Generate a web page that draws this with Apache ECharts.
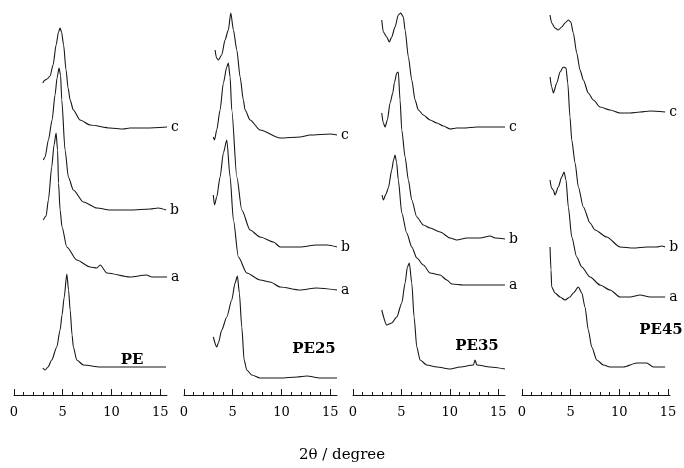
<!DOCTYPE html>
<html>
<head>
<meta charset="utf-8">
<script src="https://cdn.jsdelivr.net/npm/echarts@6/dist/echarts.min.js"></script>
<style>
  html, body { margin: 0; background: #fff; }
  #main { width: 684px; height: 468px; }
</style>
</head>
<body>
<div id="main"></div>
<script>
// [2theta (degree), intensity (arb. units)]
var pe_base = [[2.95,27],[3.19,25],[3.49,28],[3.87,35],[4.39,48],[4.73,65],[4.93,80],[5.14,97],[5.42,121],[5.60,105],[5.76,85],[5.96,60],[6.09,48],[6.44,35],[7.12,30],[8.84,28],[11.9,28],[15.6,28]];
var pe_a = [[3.01,175],[3.29,179],[3.53,195],[3.87,228],[4.11,250],[4.32,262],[4.47,245],[4.57,212],[4.73,185],[4.93,168],[5.42,148],[6.44,135],[7.81,128],[8.50,127],[8.84,130],[9.53,122],[11.9,118],[13.6,120],[14.15,118],[15.7,118]];
var pe_b = [[3.01,235],[3.19,238],[3.53,255],[3.91,275],[4.21,300],[4.42,317],[4.62,327],[4.78,320],[4.90,295],[5.24,245],[5.58,218],[6.09,205],[7.12,193],[8.50,187],[9.87,185],[11.9,185],[13.98,186],[14.8,187],[15.6,185]];
var pe_c = [[2.95,312],[3.19,315],[3.39,316],[3.70,319],[4.01,330],[4.32,350],[4.57,363],[4.73,367],[4.88,363],[5.09,350],[5.34,325],[5.55,307],[5.76,295],[6.09,285],[6.78,275],[7.81,270],[9.87,267],[11.2,266],[11.9,267],[13.6,267],[15.7,268]];

var pe25_base = [[3.01,58],[3.36,48],[3.53,52],[3.87,65],[4.39,78],[4.90,95],[5.24,112],[5.48,119],[5.68,102],[5.93,68],[6.17,35],[6.44,25],[6.96,20],[7.81,17],[9.87,17],[11.6,18],[12.6,19],[13.98,17],[15.7,17]];
var pe25_a = [[3.01,200],[3.13,190],[3.36,198],[3.70,218],[4.04,242],[4.39,255],[4.73,218],[5.07,175],[5.58,138],[6.44,122],[7.81,115],[8.84,113],[9.87,108],[11.9,105],[13.6,107],[15.7,105]];
var pe25_b = [[3.01,258],[3.13,255],[3.36,265],[3.70,285],[4.04,312],[4.39,328],[4.55,332],[4.73,318],[4.90,285],[5.42,218],[5.93,185],[6.78,165],[7.81,158],[9.18,153],[9.87,148],[11.9,148],[13.6,150],[14.7,150],[15.7,148]];
var pe25_c = [[3.19,345],[3.34,337],[3.53,335],[3.87,340],[4.21,355],[4.55,365],[4.80,382],[5.07,365],[5.42,345],[5.76,318],[6.09,295],[6.27,285],[6.78,275],[7.81,265],[9.87,257],[11.9,258],[12.95,260],[15.0,261],[15.7,260]];

var pe35_base = [[2.97,85],[3.49,70],[4.00,72],[4.52,78],[5.04,92],[5.38,112],[5.62,128],[5.82,132],[6.07,112],[6.31,78],[6.59,48],[6.93,35],[7.62,30],[8.66,28],[10.03,26],[11.07,28],[12.44,30],[12.6,35],[12.8,30],[14.17,28],[15.7,26]];
var pe35_a = [[3.00,200],[3.13,195],[3.41,201],[3.65,207],[4.00,225],[4.19,235],[4.34,240],[4.50,233],[4.68,215],[5.04,182],[5.55,162],[6.07,148],[6.59,137],[7.27,130],[7.96,122],[9.00,120],[9.69,115],[10.2,111],[11.4,110],[13.13,110],[15.7,110]];
var pe35_b = [[2.97,282],[3.13,272],[3.31,268],[3.55,275],[3.83,292],[4.11,302],[4.27,312],[4.52,322],[4.68,323],[4.86,295],[5.04,265],[5.38,238],[5.72,215],[6.07,195],[6.59,178],[7.27,170],[7.96,167],[9.00,163],[10.03,157],[10.72,155],[11.76,157],[13.13,157],[14.17,159],[14.68,157],[15.7,156]];
var pe35_c = [[2.97,375],[3.13,363],[3.49,358],[3.75,353],[4.00,358],[4.34,368],[4.68,380],[4.93,382],[5.20,378],[5.38,365],[5.72,338],[6.07,315],[6.41,295],[6.75,285],[7.27,280],[7.96,275],[8.66,272],[9.34,269],[10.03,266],[10.72,267],[11.4,267],[12.8,268],[14.17,268],[15.7,268]];

var pe45_base = [[2.88,148],[2.98,125],[3.05,108],[3.39,102],[3.91,98],[4.42,95],[4.93,98],[5.27,102],[5.79,108],[6.14,102],[6.47,88],[6.81,65],[7.16,48],[7.68,35],[8.36,30],[9.04,28],[10.4,28],[11.8,32],[12.8,32],[13.5,28],[14.7,28]];
var pe45_a = [[2.88,215],[3.03,207],[3.22,205],[3.39,200],[3.73,208],[4.08,218],[4.32,223],[4.52,215],[4.76,188],[5.11,158],[5.62,138],[6.14,128],[6.99,118],[8.02,110],[9.04,105],[10.07,98],[11.1,98],[12.13,100],[13.16,98],[14.7,98]];
var pe45_b = [[2.88,318],[3.05,308],[3.22,302],[3.57,312],[3.91,323],[4.24,328],[4.52,327],[4.70,312],[4.93,278],[5.11,255],[5.45,232],[5.79,208],[6.30,188],[6.99,172],[7.50,165],[8.70,158],[10.07,148],[11.44,147],[12.82,148],[13.84,148],[14.36,149],[14.7,148]];
var pe45_c = [[2.88,380],[3.05,372],[3.39,367],[3.73,365],[4.08,368],[4.42,372],[4.76,375],[5.01,373],[5.27,362],[5.62,342],[5.96,325],[6.30,315],[6.81,302],[7.33,295],[8.02,288],[9.04,285],[10.07,282],[11.1,282],[12.13,283],[13.16,284],[14.7,283]];

var panelNames = ['PE', 'PE25', 'PE35', 'PE45'];
var curveNames = ['', 'a', 'b', 'c'];
var curves = [
  [pe_base, pe_a, pe_b, pe_c],
  [pe25_base, pe25_a, pe25_b, pe25_c],
  [pe35_base, pe35_a, pe35_b, pe35_c],
  [pe45_base, pe45_a, pe45_b, pe45_c]
];
var axisMax = [15.7, 15.7, 15.7, 15.2];
var minorTicks = [0, 1, 2, 3, 4, 5, 6, 7, 8, 9, 10, 11, 12, 13, 14, 15];
var majorTicks = [0, 5, 10, 15];

var font = 'DejaVu Serif';
var ink = '#161616';

var gridLeft = [14, 184, 353, 522];
var gridWidth = [153, 153, 152, 148];
var nameBox = [[132, 360], [314, 349], [477, 346], [661, 330]];

var grids = [], xAxes = [], yAxes = [], series = [], texts = [];

for (var i = 0; i < 4; i++) {
  grids.push({ left: gridLeft[i], width: gridWidth[i], top: 0, height: 395, outerBoundsMode: 'none' });
  // axis line with the small 1-degree ticks
  xAxes.push({
    type: 'value', gridIndex: i, position: 'bottom', min: 0, max: axisMax[i],
    axisLine: { lineStyle: { color: ink, width: 1 } },
    axisTick: { inside: true, length: 3, customValues: minorTicks, lineStyle: { color: ink } },
    axisLabel: { show: false },
    splitLine: { show: false }
  });
  yAxes.push({ type: 'value', gridIndex: i, min: 0, max: 395, show: false });
}
for (var i = 0; i < 4; i++) {
  // taller ticks and labels every 5 degrees
  xAxes.push({
    type: 'value', gridIndex: i, position: 'bottom', min: 0, max: axisMax[i],
    axisLine: { show: false },
    axisTick: { inside: true, length: 6, customValues: majorTicks, lineStyle: { color: ink } },
    axisLabel: { customValues: majorTicks, margin: 11, color: '#000', fontFamily: font, fontSize: 13 },
    splitLine: { show: false }
  });
  for (var j = 0; j < 4; j++) {
    series.push({
      type: 'line',
      name: curveNames[j],
      xAxisIndex: i,
      yAxisIndex: i,
      data: curves[i][j],
      showSymbol: false,
      smooth: 0.25,
      smoothMonotone: 'x',
      lineStyle: { color: ink, width: 1.1 },
      endLabel: {
        show: j > 0,
        formatter: '{a}',
        color: '#000',
        fontFamily: font,
        fontSize: 14,
        distance: 4
      },
      silent: true
    });
  }
  texts.push({
    type: 'text', x: nameBox[i][0], y: nameBox[i][1],
    style: {
      text: panelNames[i], fill: '#000', font: 'bold 15px "DejaVu Serif"',
      textAlign: 'center', textVerticalAlign: 'middle'
    }
  });
}
texts.push({
  type: 'text', x: 342, y: 455,
  style: {
    text: '2θ / degree', fill: '#000', font: '15px "DejaVu Serif"',
    textAlign: 'center', textVerticalAlign: 'middle'
  }
});

var myChart = echarts.init(document.getElementById('main'));
var option = {
  animation: false,
  backgroundColor: '#fff',
  grid: grids,
  xAxis: xAxes,
  yAxis: yAxes,
  series: series,
  graphic: texts
};
myChart.setOption(option);
window.onresize = function () {
  myChart.resize();
};
</script>
</body>
</html>
